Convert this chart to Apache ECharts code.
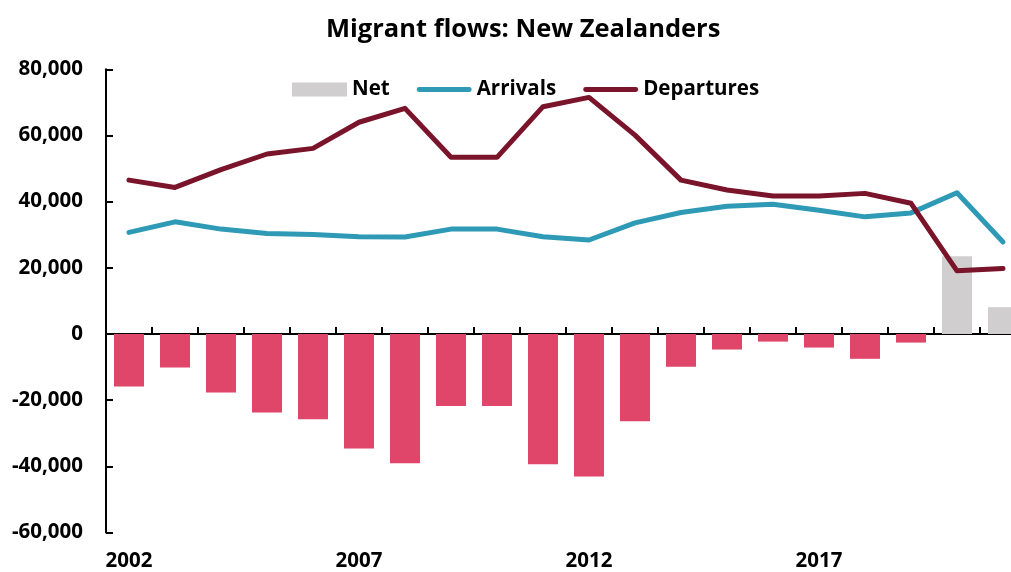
<!DOCTYPE html>
<html>
<head>
<meta charset="utf-8">
<title>Migrant flows: New Zealanders</title>
<script src="https://cdn.jsdelivr.net/npm/echarts@6/dist/echarts.min.js"></script>
<style>
  html, body { margin: 0; padding: 0; background: #ffffff; }
  #chart { width: 1011px; height: 572px; }
</style>
</head>
<body>
<div id="chart"></div>
<script>
// Annual migrant flows of New Zealand citizens
const years = ['2002','2003','2004','2005','2006','2007','2008','2009','2010','2011',
               '2012','2013','2014','2015','2016','2017','2018','2019','2020','2021'];

const arrivals = [30700, 33900, 31700, 30400, 30100, 29400, 29300, 31700, 31700, 29400,
                  28400, 33600, 36700, 38600, 39200, 37400, 35400, 36600, 42700, 27800];

const departures = [46500, 44300, 49700, 54400, 56100, 64000, 68200, 53400, 53400, 68700,
                    71500, 60100, 46500, 43500, 41700, 41700, 42500, 39500, 19100, 19800];

const net = [-15900, -10100, -17700, -23700, -25800, -34600, -39100, -21800, -21800, -39400,
             -43100, -26400, -9900, -4700, -2300, -4100, -7500, -2600, 23500, 8100];

const yTicks = { min: -60000, max: 80000, step: 20000 };

const FONT = '"Open Sans", "Noto Sans", sans-serif';
const LABEL_SIZE = 20.5;
const COL_POS = '#d0cecf';
const COL_NEG = '#e0456a';
const COL_ARR = '#2e9ab5';
const COL_DEP = '#7a142a';

// thick rounded bar used as the legend key for the line series
const LINE_KEY = 'path://M2.5,0H53.5A2.5,2.5,0,0,1,53.5,5H2.5A2.5,2.5,0,0,1,2.5,0Z';

const chart = echarts.init(document.getElementById('chart'), null, { renderer: 'canvas' });

chart.setOption({
  animation: false,
  backgroundColor: '#ffffff',
  textStyle: { fontFamily: FONT },
  title: {
    text: 'Migrant flows: New Zealanders',
    left: 326,
    top: 17,
    padding: 0,
    textStyle: { fontFamily: FONT, fontWeight: 'bold', fontSize: 25.5, color: '#000000' }
  },
  legend: {
    left: 292,
    top: 79,
    padding: 0,
    itemWidth: 55,
    itemHeight: 14,
    itemGap: 27,
    symbolKeepAspect: true,
    textStyle: { fontFamily: FONT, fontWeight: 'bold', fontSize: LABEL_SIZE, color: '#000000' },
    data: [
      { name: 'Net', icon: 'rect', itemStyle: { color: COL_POS } },
      { name: 'Arrivals', icon: LINE_KEY, itemStyle: { color: COL_ARR } },
      { name: 'Departures', icon: LINE_KEY, itemStyle: { color: COL_DEP } }
    ]
  },
  // the last year's bar runs off the right edge, so the plot is allowed past the canvas
  grid: { left: 106, width: 920, top: 69.3, bottom: 39.5, containLabel: false, outerBoundsMode: 'none' },
  xAxis: [
    {
      type: 'category',
      data: years,
      axisLine: { onZero: true, lineStyle: { color: '#000000', width: 2 } },
      axisTick: { show: true, inside: true, length: 7, lineStyle: { color: '#000000', width: 2 } },
      axisLabel: { show: false },
      splitLine: { show: false }
    },
    {
      type: 'category',
      data: years,
      position: 'bottom',
      axisLine: { show: false, onZero: false },
      axisTick: { show: false },
      axisLabel: {
        interval: 4,
        margin: 18,
        fontFamily: FONT,
        fontWeight: 'bold',
        fontSize: LABEL_SIZE,
        color: '#000000'
      },
      splitLine: { show: false }
    }
  ],
  yAxis: {
    type: 'value',
    min: yTicks.min,
    max: yTicks.max,
    interval: yTicks.step,
    axisLine: { show: true, lineStyle: { color: '#000000', width: 2 } },
    axisTick: { show: true, inside: true, length: 7, lineStyle: { color: '#000000', width: 2 } },
    splitLine: { show: false },
    axisLabel: {
      margin: 23,
      fontFamily: FONT,
      fontWeight: 'bold',
      fontSize: LABEL_SIZE,
      color: '#000000',
      formatter: v => v.toLocaleString('en-US')
    }
  },
  series: [
    {
      name: 'Net',
      type: 'bar',
      xAxisIndex: 0,
      data: net,
      barWidth: 30,
      itemStyle: { color: p => (p.value >= 0 ? COL_POS : COL_NEG) },
      z: 1
    },
    {
      name: 'Arrivals',
      type: 'line',
      xAxisIndex: 0,
      data: arrivals,
      symbol: 'none',
      color: COL_ARR,
      lineStyle: { color: COL_ARR, width: 5, cap: 'round', join: 'round' },
      z: 3
    },
    {
      name: 'Departures',
      type: 'line',
      xAxisIndex: 0,
      data: departures,
      symbol: 'none',
      color: COL_DEP,
      lineStyle: { color: COL_DEP, width: 5, cap: 'round', join: 'round' },
      z: 4
    }
  ]
});
</script>
</body>
</html>
